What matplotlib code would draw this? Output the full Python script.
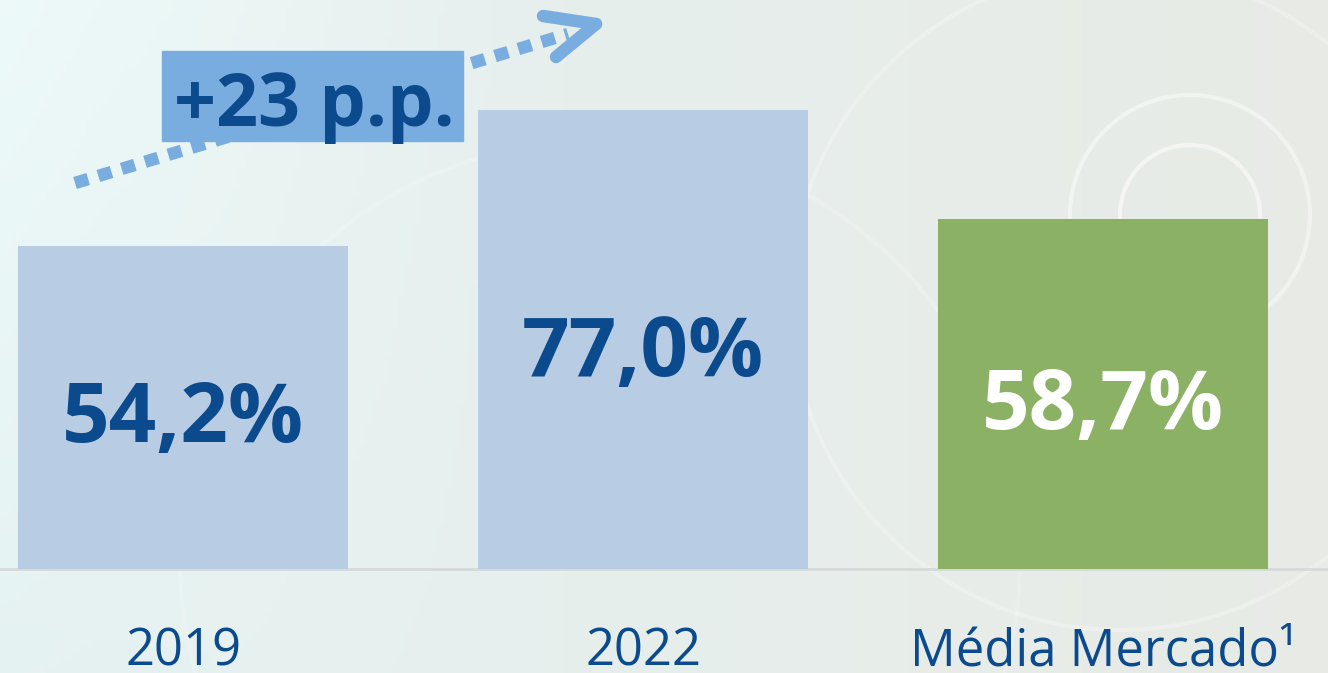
import numpy as np
import matplotlib.pyplot as plt
from matplotlib.patches import Rectangle, Ellipse

categorias = ["2019", "2022", "Média Mercado¹"]
valores = [54.2, 77.0, 58.7]
rotulos = ["54,2%", "77,0%", "58,7%"]
cores = ["#b8cce4", "#b8cce4", "#8bb264"]
cor_rotulo = ["#0b4a8c", "#0b4a8c", "#ffffff"]
variacao = "+23 p.p."

azul = "#0b4a8c"
azul_claro = "#7aaddf"

plt.rcParams['font.family'] = ['Open Sans', 'DejaVu Sans']

fig = plt.figure(figsize=(13.28, 6.73), dpi=100)
ax = fig.add_axes([0, 0, 1, 1])
x0, x1 = -0.398, 2.489
y0, y1 = -17.43, 95.39
ax.set_xlim(x0, x1)
ax.set_ylim(y0, y1)
ax.axis('off')

# px -> data helpers (image is 1328 x 673)
def px(x, y):
    return x0 + x / 1328 * (x1 - x0), y1 - y / 673 * (y1 - y0)

# fundo em degradê
gx = np.linspace(0, 1, 200)
gy = np.linspace(0, 1, 100)
GX, GY = np.meshgrid(gx, gy)
esq = np.array([0.90, 0.95, 0.95])
dir_ = np.array([0.91, 0.92, 0.90])
img = esq[None, None, :] * (1 - GX[..., None]) + dir_[None, None, :] * GX[..., None]
img = img + 0.03 * np.clip(1 - GX[..., None] * 2.5, 0, 1) * GY[..., None]
img = np.clip(img, 0, 1)
ax.imshow(img, extent=[x0, x1, y0, y1], aspect='auto', origin='lower', zorder=0)

# círculos decorativos
for cx, cy, r, a in [(1190, 215, 70, 0.55), (1190, 215, 120, 0.45), (1120, 300, 330, 0.25), (600, 560, 420, 0.2)]:
    c = px(cx, cy)
    w = 2 * r / 1328 * (x1 - x0)
    h = 2 * r / 673 * (y1 - y0)
    ax.add_patch(Ellipse(c, w, h, fill=False, ec='white', lw=3, alpha=a, zorder=0.5))

xs = np.arange(len(categorias))
ax.bar(xs, valores, width=0.717, color=cores, zorder=2)
ax.axhline(0, color='#d6d9d9', lw=2, zorder=1)

for i, v in enumerate(valores):
    ax.text(xs[i], 0.485 * v - 5.0, rotulos[i], ha='center', va='baseline',
            fontsize=60, fontweight='bold', color=cor_rotulo[i], zorder=3)
    ax.text(xs[i], -16.1, categorias[i], ha='center', va='baseline',
            fontsize=36.5, color=azul, zorder=3)

# seta pontilhada
sx, sy = px(75, 183)
ex, ey = px(568, 34)
ax.plot([sx, ex], [sy, ey], color=azul_claro, lw=9, dashes=(1.1, 0.85),
        solid_capstyle='butt', dash_capstyle='butt', zorder=2)
tx, ty = px(596, 24)
for ax_, ay_ in [px(543, 16), px(556, 57)]:
    ax.plot([ax_, tx], [ay_, ty], color=azul_claro, lw=9,
            solid_capstyle='round', zorder=2)

# caixa +23 p.p.
bx0, by0 = px(162, 141)
bx1, by1 = px(463, 51)
ax.add_patch(Rectangle((bx0, by0), bx1 - bx0, by1 - by0, color=azul_claro, zorder=3))
tx2, ty2 = px(314, 126)
ax.text(tx2, ty2, variacao, ha='center', va='baseline', fontsize=53,
        fontweight='bold', color=azul, zorder=4)

fig.savefig('out.png', dpi=100)
